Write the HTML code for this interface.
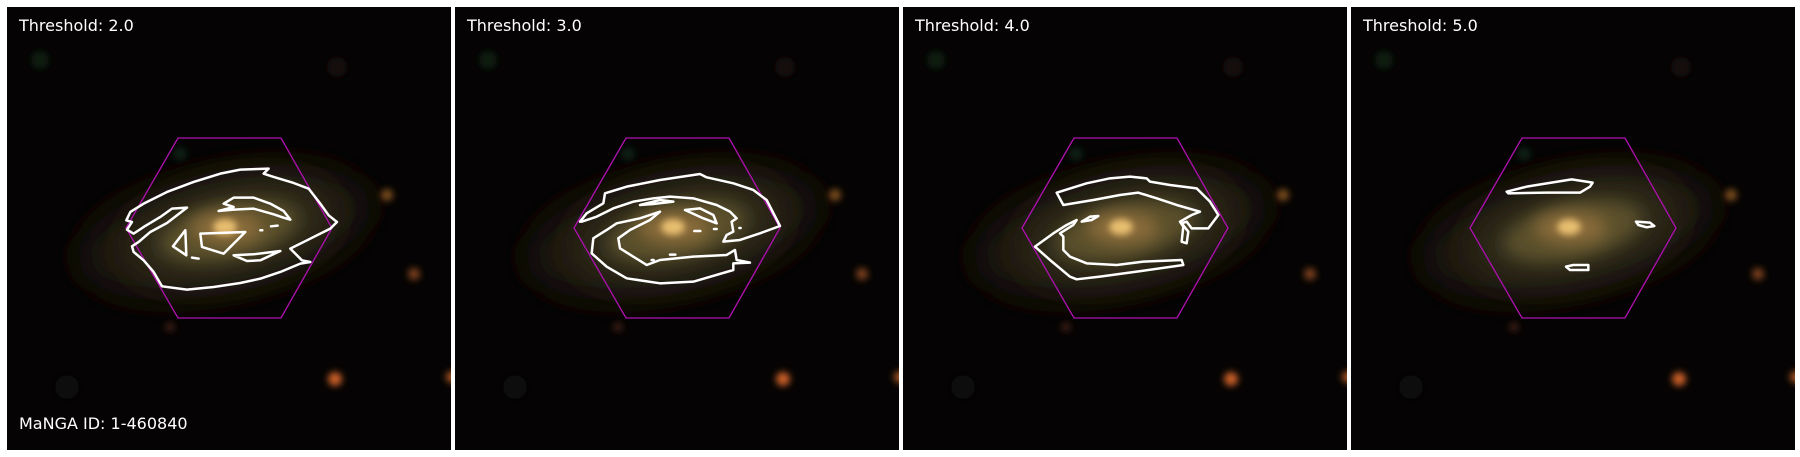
<!DOCTYPE html>
<html><head><meta charset="utf-8">
<style>
html,body{margin:0;padding:0;background:#fff;}
body{width:1800px;height:457px;position:relative;overflow:hidden;}
.panel{position:absolute;top:7px;width:444px;height:443px;}
.lbl{font-family:"DejaVu Sans","Liberation Sans",sans-serif;font-size:16px;fill:#fff;}
</style></head>
<body>
<svg width="0" height="0" style="position:absolute">
<defs>
  <filter id="b8" x="-50%" y="-50%" width="200%" height="200%"><feGaussianBlur stdDeviation="8"/></filter>
  <filter id="b18" x="-50%" y="-50%" width="200%" height="200%"><feGaussianBlur stdDeviation="18"/></filter>
  <filter id="b4" x="-50%" y="-50%" width="200%" height="200%"><feGaussianBlur stdDeviation="3.5"/></filter>
  <g id="sky">
    <rect x="0" y="0" width="444" height="443" fill="#050303"/>
    <circle cx="33" cy="53" r="9" fill="#0a1a0c" filter="url(#b4)"/>
    <circle cx="173" cy="147" r="7" fill="#0e2414" filter="url(#b4)"/>
    <circle cx="330" cy="60" r="10" fill="#120909" filter="url(#b4)"/>
    <circle cx="60" cy="380" r="12" fill="#0d0808" filter="url(#b4)"/>
    <g transform="translate(222,224) rotate(-12)">
      <ellipse cx="-5" cy="0" rx="150" ry="62" fill="#1a170c" filter="url(#b18)"/>
      <ellipse cx="0" cy="0" rx="105" ry="44" fill="#332e1a" filter="url(#b18)"/>
      <ellipse cx="0" cy="0" rx="70" ry="28" fill="#5a4f2a" filter="url(#b8)"/>
    </g>
    <ellipse cx="220" cy="221" rx="36" ry="16" fill="#8a6c3a" filter="url(#b8)"/>
    <ellipse cx="218" cy="220" rx="12" ry="8" fill="#e8be70" filter="url(#b4)"/>
    <circle cx="380" cy="188" r="6" fill="#7a4e1e" filter="url(#b4)"/>
    <circle cx="407" cy="267" r="6" fill="#7a401a" filter="url(#b4)"/>
    <circle cx="328" cy="372" r="7" fill="#c85e28" filter="url(#b4)"/>
    <circle cx="163" cy="320" r="5" fill="#3a1c12" filter="url(#b4)"/>
    <circle cx="445" cy="370" r="6" fill="#a85422" filter="url(#b4)"/>
  </g>
  <polygon id="hex" points="119,221 171,131 274,131 325,221 274,311 171,311" fill="none" stroke="#b010b0" stroke-width="1.3"/>
</defs>
</svg>

<div class="panel" style="left:7px">
<svg width="444" height="443">
  <use href="#sky"/>
  <use href="#hex"/>
  <g transform="scale(0.3333)" fill="none" stroke="#fff" stroke-width="7.5" stroke-linejoin="round" stroke-linecap="round">
    <path d="M785,485 L770,500 L800,510 L860,528 L905,545 L940,590 L965,625 L990,645 L970,665 L900,700 L850,725 L885,760 L910,765 L880,770 L820,795 L760,815 L700,828 L620,840 L540,848 L465,838 L440,795 L410,760 L380,735 L375,718 L395,705 L430,675 L480,648 L540,602 L495,605 L460,630 L410,660 L380,680 L360,668 L375,645 L358,640 L370,615 L410,590 L480,555 L560,525 L640,500 L700,488 Z"/>
    <path d="M635,612 L680,600 L650,590 L680,572 L740,572 L790,590 L830,612 L850,638 L830,632 L800,622 L740,605 L680,608 Z"/>
    <path d="M580,680 L715,675 L650,740 L585,720 Z"/>
    <path d="M535,670 L498,718 L538,745 Z"/>
    <path d="M680,745 L720,762 L760,760 L820,732 L740,742 Z"/>
    <path d="M555,752 L575,755 M760,670 L766,670 M792,658 L812,656"/>
  </g>
  <text class="lbl" x="12" y="24">Threshold: 2.0</text>
  <text class="lbl" x="12" y="422">MaNGA ID: 1-460840</text>
</svg>
</div>

<div class="panel" style="left:455px">
<svg width="444" height="443">
  <use href="#sky"/>
  <use href="#hex"/>
  <g transform="translate(105,143) scale(0.3333)" fill="none" stroke="#fff" stroke-width="7.5" stroke-linejoin="round" stroke-linecap="round">
    <path d="M60,215 L80,190 L130,160 L135,130 L200,110 L300,90 L420,72 L440,82 L520,100 L580,120 L620,150 L660,228 L600,250 L540,270 L490,275 L500,255 L520,245 L515,215 L530,205 L510,185 L470,165 L400,145 L330,140 L280,145 L220,155 L160,175 L110,200 L65,215 Z"/>
    <path d="M300,185 L240,205 L170,220 L140,240 L100,265 L95,310 L140,350 L200,385 L300,400 L400,395 L520,360 L520,340 L570,338 L530,330 L525,300 L500,315 L400,320 L300,330 L260,345 L220,320 L180,295 L175,265 L210,240 L240,225 L270,210 Z"/>
    <path d="M240,165 L300,150 L340,155 L280,162 Z"/>
    <path d="M375,180 L420,175 L460,195 L470,220 L430,205 Z"/>
    <path d="M403,243 L421,243 M462,237 L470,237 M330,314 L346,314 M275,330 L281,330 M538,234 L542,234"/>
  </g>
  <text class="lbl" x="12" y="24">Threshold: 3.0</text>
</svg>
</div>

<div class="panel" style="left:903px">
<svg width="444" height="443">
  <use href="#sky"/>
  <use href="#hex"/>
  <g transform="translate(107,143) scale(0.3333)" fill="none" stroke="#fff" stroke-width="7.5" stroke-linejoin="round" stroke-linecap="round">
    <path d="M140,128 L230,100 L300,85 L360,80 L410,85 L420,95 L480,105 L560,115 L600,155 L625,195 L595,235 L545,235 L530,215 L515,220 L535,245 L530,280 L515,275 L520,230 L510,215 L545,195 L570,185 L500,165 L440,145 L385,128 L330,135 L250,150 L160,165 Z"/>
    <path d="M200,210 L170,225 L130,250 L75,290 L120,330 L180,380 L200,388 L270,380 L380,365 L520,345 L515,330 L400,335 L320,345 L230,340 L180,320 L160,300 L160,260 L150,250 L190,225 Z"/>
    <path d="M215,215 L240,200 L265,198 L245,210 Z"/>
  </g>
  <text class="lbl" x="12" y="24">Threshold: 4.0</text>
</svg>
</div>

<div class="panel" style="left:1351px">
<svg width="444" height="443">
  <use href="#sky"/>
  <use href="#hex"/>
  <g transform="translate(109,143) scale(0.3333)" fill="none" stroke="#fff" stroke-width="7.5" stroke-linejoin="round" stroke-linecap="round">
    <path d="M140,125 L200,110 L335,88 L398,98 L390,110 L360,128 L260,128 L145,130 Z"/>
    <path d="M528,215 L570,218 L583,228 L560,232 L535,225 Z"/>
    <path d="M318,350 L340,345 L385,345 L385,360 L330,360 Z"/>
  </g>
  <text class="lbl" x="12" y="24">Threshold: 5.0</text>
</svg>
</div>
</body></html>
